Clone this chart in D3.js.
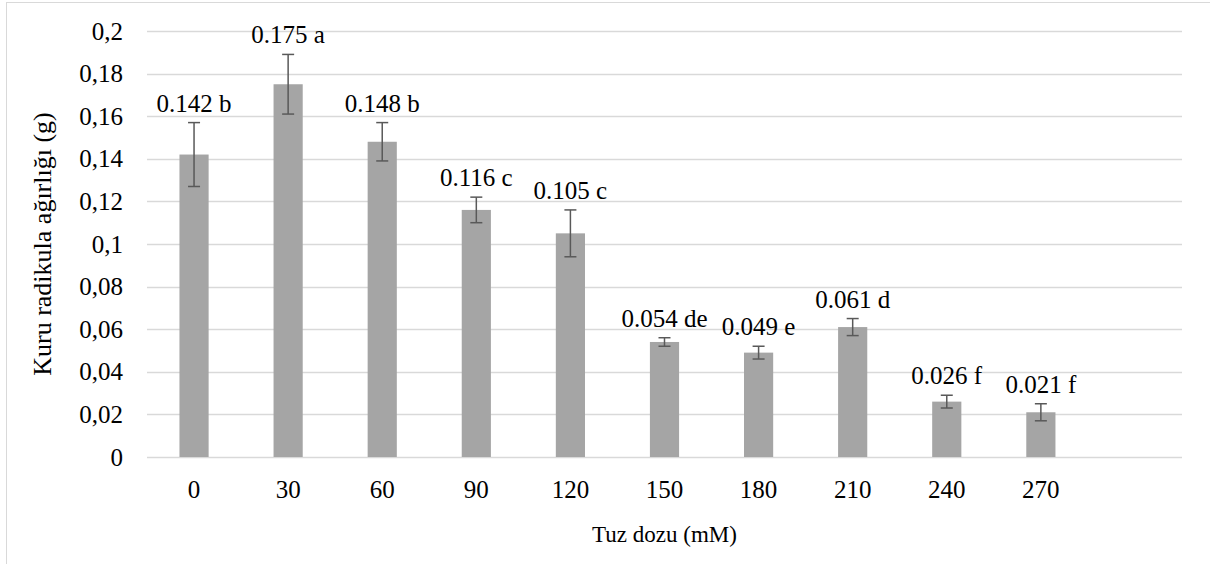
<!DOCTYPE html>
<html>
<head>
<meta charset="utf-8">
<script src="https://cdn.jsdelivr.net/npm/d3@7"></script>
<style>
  body { margin: 0; background: #fff; }
</style>
</head>
<body>
<div id="chart"></div>
<script>
// data
const doses = ['0', '30', '60', '90', '120', '150', '180', '210', '240', '270', '']
const values = [0.142, 0.175, 0.148, 0.116, 0.105, 0.054, 0.049, 0.061, 0.026, 0.021]
const errors = [0.015, 0.014, 0.009, 0.006, 0.011, 0.002, 0.003, 0.004, 0.003, 0.004]
const letters = ['b', 'a', 'b', 'c', 'c', 'de', 'e', 'd', 'f', 'f']
const yTicks = [0, 0.02, 0.04, 0.06, 0.08, 0.1, 0.12, 0.14, 0.16, 0.18, 0.2]

const width = 1210
const height = 564
const margin = {left: 147, right: 28, top: 31, bottom: 107}
const font = 'Liberation Serif'
const fontSize = 25

const svg = d3.select('#chart')
  .append('svg')
  .attr('width', width)
  .attr('height', height)
  .style('display', 'block')
  .style('font-family', font)

// outer frame
svg.append('rect')
  .attr('x', 6.5).attr('y', 2.5)
  .attr('width', width + 10).attr('height', height + 10)
  .attr('fill', 'none')
  .attr('stroke', '#d9d9d9')

const x = d3.scaleBand()
  .domain(doses)
  .range([margin.left, width - margin.right])
  .paddingInner(0.69)
  .paddingOuter(0.345)

const y = d3.scaleLinear()
  .domain([0, 0.2])
  .range([height - margin.bottom, margin.top])

// gridlines
svg.append('g')
  .selectAll('line')
  .data(yTicks)
  .join('line')
  .attr('x1', margin.left)
  .attr('x2', width - margin.right)
  .attr('y1', d => Math.round(y(d)) + 0.5)
  .attr('y2', d => Math.round(y(d)) + 0.5)
  .attr('stroke', '#d9d9d9')
  .attr('stroke-width', 1.3)

// y axis labels
const fmt = d => d === 0 ? '0' : String(+d.toFixed(2)).replace('.', ',')
const yAxis = svg.append('g')
  .attr('transform', `translate(${margin.left - 24}, 0)`)
  .call(d3.axisLeft(y).tickValues(yTicks).tickFormat(fmt).tickSize(0).tickPadding(0))
yAxis.select('.domain').remove()
yAxis.selectAll('text')
  .style('font-family', font)
  .style('font-size', fontSize + 'px')
  .attr('fill', '#000')

// x axis labels
const xAxis = svg.append('g')
  .attr('transform', `translate(0, ${height - margin.bottom})`)
  .call(d3.axisBottom(x).tickSize(0).tickPadding(23))
xAxis.select('.domain').remove()
xAxis.selectAll('text')
  .style('font-family', font)
  .style('font-size', fontSize + 'px')
  .attr('fill', '#000')

const rows = values.map((v, i) => ({dose: doses[i], v, e: errors[i], l: letters[i]}))

// bars
svg.append('g')
  .selectAll('rect')
  .data(rows)
  .join('rect')
  .attr('x', d => x(d.dose))
  .attr('y', d => y(d.v))
  .attr('width', x.bandwidth())
  .attr('height', d => y(0) - y(d.v))
  .attr('fill', '#a5a5a5')

// error bars
const eb = svg.append('g')
  .attr('stroke', '#595959')
  .attr('stroke-width', 1.5)
const cx = d => x(d.dose) + x.bandwidth() / 2
eb.selectAll('.stem')
  .data(rows)
  .join('line')
  .attr('x1', cx).attr('x2', cx)
  .attr('y1', d => y(d.v + d.e)).attr('y2', d => y(d.v - d.e))
eb.selectAll('.capTop')
  .data(rows)
  .join('line')
  .attr('x1', d => cx(d) - 6).attr('x2', d => cx(d) + 6)
  .attr('y1', d => y(d.v + d.e)).attr('y2', d => y(d.v + d.e))
eb.selectAll('.capBottom')
  .data(rows)
  .join('line')
  .attr('x1', d => cx(d) - 6).attr('x2', d => cx(d) + 6)
  .attr('y1', d => y(d.v - d.e)).attr('y2', d => y(d.v - d.e))

// value labels
svg.append('g')
  .selectAll('text')
  .data(rows)
  .join('text')
  .attr('x', cx)
  .attr('y', d => y(d.v + d.e) - 11)
  .attr('text-anchor', 'middle')
  .style('font-size', fontSize + 'px')
  .text(d => `${d.v.toFixed(3)} ${d.l}`)

// axis titles
svg.append('text')
  .attr('transform', `translate(51, ${(margin.top + height - margin.bottom) / 2}) rotate(-90)`)
  .attr('text-anchor', 'middle')
  .style('font-size', '26px')
  .text('Kuru radikula ağırlığı (g)')

svg.append('text')
  .attr('x', (margin.left + width - margin.right) / 2)
  .attr('y', 542)
  .attr('text-anchor', 'middle')
  .style('font-size', '23px')
  .text('Tuz dozu (mM)')
</script>
</body>
</html>
